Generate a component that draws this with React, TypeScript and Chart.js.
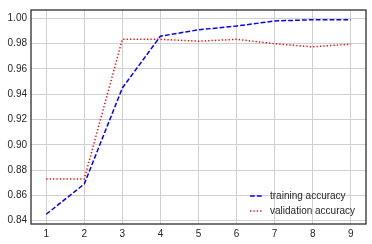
import React, { useEffect, useRef } from "react";
import { Chart, registerables } from "chart.js";

Chart.register(...registerables);

const epochs = [1, 2, 3, 4, 5, 6, 7, 8, 9];
const trainingAccuracy = [0.845, 0.869, 0.945, 0.986, 0.991, 0.994, 0.998, 0.999, 0.999];
const validationAccuracy = [0.873, 0.873, 0.9835, 0.9835, 0.982, 0.9835, 0.980, 0.9775, 0.9797];
const seriesLabels = ["training accuracy", "validation accuracy"];
const seriesColors = ["#0000ff", "#ff0000"];
const seriesDashes = [[4.8, 2.1], [1.3, 2.1]];

const FONT = "Liberation Sans";

const framePlugin = {
  id: "frameLegend",
  afterDatasetsDraw(chart: any) {
    const { ctx, chartArea } = chart;
    ctx.save();
    ctx.strokeStyle = "#262626";
    ctx.lineWidth = 1.25;
    ctx.setLineDash([]);
    ctx.strokeRect(chartArea.left, chartArea.top, chartArea.right - chartArea.left, chartArea.bottom - chartArea.top);
    // legend
    const x0 = chartArea.right - 116;
    const rows = [chartArea.bottom - 28, chartArea.bottom - 13];
    ctx.font = `10px "${FONT}"`;
    ctx.textBaseline = "middle";
    ctx.fillStyle = "#262626";
    seriesLabels.forEach((lab, i) => {
      const y = rows[i];
      ctx.beginPath();
      ctx.strokeStyle = seriesColors[i];
      ctx.lineWidth = 1.5;
      ctx.setLineDash(seriesDashes[i]);
      ctx.moveTo(x0, y);
      ctx.lineTo(x0 + 13, y);
      ctx.stroke();
      ctx.setLineDash([]);
      ctx.fillText(lab, x0 + 20, y);
    });
    ctx.restore();
  },
};

export default function App() {
  const ref = useRef<HTMLCanvasElement>(null);
  useEffect(() => {
    document.body.style.margin = "0";
    const chart = new Chart(ref.current!, {
      type: "line",
      data: {
        labels: epochs,
        datasets: [
          {
            label: seriesLabels[0],
            data: epochs.map((e, i) => ({ x: e, y: trainingAccuracy[i] })),
            borderColor: seriesColors[0],
            borderDash: seriesDashes[0],
            borderWidth: 1.5,
            pointRadius: 0,
            tension: 0,
            fill: false,
          },
          {
            label: seriesLabels[1],
            data: epochs.map((e, i) => ({ x: e, y: validationAccuracy[i] })),
            borderColor: seriesColors[1],
            borderDash: seriesDashes[1],
            borderWidth: 1.5,
            pointRadius: 0,
            tension: 0,
            fill: false,
          },
        ],
      },
      options: {
        animation: false,
        responsive: false,
        layout: { padding: { left: 0, top: 7, right: 6, bottom: 0 } },
        plugins: { legend: { display: false }, tooltip: { enabled: false } },
        scales: {
          x: {
            type: "linear",
            min: 0.6,
            max: 9.4,
            grid: { color: "#d0d0d0", lineWidth: 1, drawTicks: false },
            border: { display: false },
            ticks: {
              stepSize: 1,
              includeBounds: false,
              color: "#262626",
              font: { family: FONT, size: 10 },
              padding: 4,
              maxRotation: 0,
            },
            afterFit: (s: any) => { s.height = 20; },
          },
          y: {
            min: 0.8373,
            max: 1.0067,
            grid: { color: "#d0d0d0", lineWidth: 1, drawTicks: false },
            border: { display: false },
            ticks: {
              stepSize: 0.02,
              includeBounds: false,
              color: "#262626",
              font: { family: FONT, size: 10 },
              padding: 4,
              callback: (v: any) => Number(v).toFixed(2),
            },
            afterFit: (s: any) => { s.width = 31; },
          },
        },
      },
      plugins: [framePlugin],
    });
    return () => chart.destroy();
  }, []);
  return <canvas ref={ref} width={372} height={244} style={{ display: "block" }} />;
}
